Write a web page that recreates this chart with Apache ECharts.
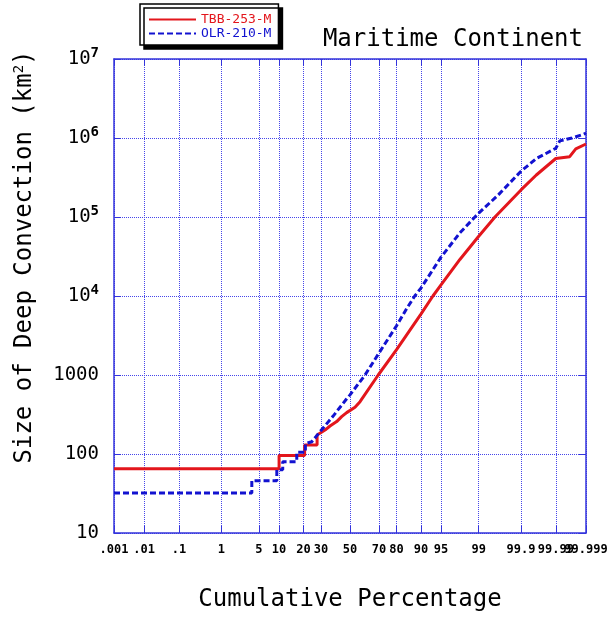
<!DOCTYPE html>
<html>
<head>
<meta charset="utf-8">
<script src="https://cdn.jsdelivr.net/npm/echarts@6/dist/echarts.min.js"></script>
<style>
  html, body { margin: 0; padding: 0; background: #fff; }
  #chart { width: 614px; height: 618px; }
</style>
</head>
<body>
<div id="chart"></div>
<script>
// Cumulative percentage ticks on the probability axis and their labels
const tickPercents = [0.001, 0.01, 0.1, 1, 5, 10, 20, 30, 50, 70, 80, 90, 95, 99, 99.9, 99.99, 99.999];
const tickLabels = ['.001', '.01', '.1', '1', '5', '10', '20', '30', '50', '70', '80', '90', '95', '99', '99.9', '99.99', '99.999'];

// TBB-253-M: [cumulative percentage, size in km^2]
const tbbPercent = [0.001, 10, 10, 20.6, 20.6, 27.6, 27.6, 32.6, 35.9, 40.5, 44, 47.6, 53.6, 57.2, 69.5, 80, 90, 93.3, 95, 97.65, 99, 99.56, 99.9, 99.962, 99.99, 99.9964, 99.99775, 99.999];
const tbbSize = [65, 65, 96, 96, 130, 130, 174, 201, 226, 257, 297, 334, 391, 460, 1000, 2100, 5900, 10000, 13800, 29000, 57000, 100000, 220000, 340000, 550000, 580000, 730000, 840000];

// OLR-210-M: [cumulative percentage, size in km^2]
const olrPercent = [0.001, 3.8, 3.8, 9.3, 9.3, 11.2, 11.2, 16.8, 16.8, 21, 21, 24.5, 30, 37.9, 47.6, 50, 60.7, 70, 80, 84.7, 87.9, 90, 95, 97.65, 98.8, 99, 99.63, 99.9, 99.962, 99.99, 99.9925, 99.997, 99.9988, 99.999];
const olrSize = [32, 32, 46, 46, 63, 63, 80, 80, 105, 105, 135, 143, 198, 300, 500, 560, 1000, 1900, 4200, 6900, 10000, 12600, 31000, 63000, 100000, 112000, 190000, 380000, 550000, 740000, 920000, 1000000, 1120000, 1150000];

// Inverse of the standard normal CDF (Acklam's rational approximation)
function probit(p) {
  const a = [-3.969683028665376e+01, 2.209460984245205e+02, -2.759285104469687e+02, 1.383577518672690e+02, -3.066479806614716e+01, 2.506628277459239e+00];
  const b = [-5.447609879822406e+01, 1.615858368580409e+02, -1.556989798598866e+02, 6.680131188771972e+01, -1.328068155288572e+01];
  const c = [-7.784894002430293e-03, -3.223964580411365e-01, -2.400758277161838e+00, -2.549732539343734e+00, 4.374664141464968e+00, 2.938163982698783e+00];
  const d = [7.784695709041462e-03, 3.224671290700398e-01, 2.445134137142996e+00, 3.754408661907416e+00];
  const pLow = 0.02425, pHigh = 1 - pLow;
  let q, r;
  if (p < pLow) {
    q = Math.sqrt(-2 * Math.log(p));
    return (((((c[0]*q+c[1])*q+c[2])*q+c[3])*q+c[4])*q+c[5]) / ((((d[0]*q+d[1])*q+d[2])*q+d[3])*q+1);
  }
  if (p <= pHigh) {
    q = p - 0.5; r = q * q;
    return (((((a[0]*r+a[1])*r+a[2])*r+a[3])*r+a[4])*r+a[5])*q / (((((b[0]*r+b[1])*r+b[2])*r+b[3])*r+b[4])*r+1);
  }
  q = Math.sqrt(-2 * Math.log(1 - p));
  return -(((((c[0]*q+c[1])*q+c[2])*q+c[3])*q+c[4])*q+c[5]) / ((((d[0]*q+d[1])*q+d[2])*q+d[3])*q+1);
}

const toZ = pct => probit(pct / 100);
const tickZ = tickPercents.map(toZ);
const zMin = tickZ[0];
const zMax = tickZ[tickZ.length - 1];

function pairs(pcts, sizes) {
  return pcts.map((p, i) => [toZ(p), sizes[i]]);
}

const MONO = "'DejaVu Sans Mono', 'Liberation Mono', monospace";
const FRAME = '#3434dc';
const GRID = '#4646ea';
const RED = '#e3161c';
const BLUE = '#1212d0';

function xLabel(v) {
  for (let i = 0; i < tickZ.length; i++) {
    if (Math.abs(tickZ[i] - v) < 1e-6) return tickLabels[i];
  }
  return '';
}

function yLabel(v) {
  const e = Math.round(Math.log10(v));
  if (e >= 4) return '10{sup|' + e + '}';
  return String(Math.round(v));
}

const frameLine = { show: true, onZero: false, lineStyle: { color: FRAME, width: 1.5 } };
const xLabelStyle = {
  formatter: xLabel,
  showMinLabel: true,
  showMaxLabel: true,
  margin: 11,
  fontFamily: MONO,
  fontSize: 12,
  fontWeight: 'bold',
  color: '#000'
};

const chart = echarts.init(document.getElementById('chart'), null, { renderer: 'canvas' });

chart.setOption({
  backgroundColor: '#fff',
  animation: false,
  title: {
    text: 'Maritime Continent',
    right: 31,
    top: 28,
    padding: 0,
    textStyle: { fontFamily: MONO, fontSize: 24, fontWeight: 'normal', color: '#000' }
  },
  legend: {
    left: 140,
    top: 4,
    orient: 'vertical',
    itemWidth: 47,
    itemHeight: 10,
    itemGap: 1,
    padding: [9, 7, 5, 8],
    backgroundColor: '#fff',
    borderColor: '#000',
    borderWidth: 1.5,
    borderRadius: 0,
    shadowColor: '#000',
    shadowBlur: 0,
    shadowOffsetX: 4,
    shadowOffsetY: 4,
    itemStyle: { opacity: 0 },
    textStyle: { fontFamily: MONO, fontSize: 13 },
    data: [
      { name: 'TBB-253-M', textStyle: { color: RED } },
      { name: 'OLR-210-M', textStyle: { color: BLUE } }
    ]
  },
  grid: { left: 114, right: 28, top: 59, bottom: 85 },
  xAxis: [
    {
      type: 'value',
      position: 'bottom',
      min: zMin,
      max: zMax,
      name: 'Cumulative Percentage',
      nameLocation: 'middle',
      nameGap: 55,
      nameTextStyle: { fontFamily: MONO, fontSize: 24, color: '#000' },
      axisLine: frameLine,
      axisTick: { show: true, inside: true, length: 7, customValues: tickZ, lineStyle: { color: FRAME, width: 1 } },
      // every label except the last one, which sits on its own axis below so both crowded labels stay drawn
      axisLabel: Object.assign({ customValues: tickZ.slice(0, -1) }, xLabelStyle),
      splitLine: { show: true, lineStyle: { color: GRID, width: 1, type: [1, 1] } }
    },
    {
      type: 'value',
      position: 'top',
      min: zMin,
      max: zMax,
      axisLine: frameLine,
      axisTick: { show: true, inside: true, length: 7, customValues: tickZ, lineStyle: { color: FRAME, width: 1 } },
      axisLabel: { show: false },
      splitLine: { show: false }
    },
    {
      type: 'value',
      position: 'bottom',
      offset: 0,
      min: zMin,
      max: zMax,
      axisLine: { show: false, onZero: false },
      axisTick: { show: false },
      axisLabel: Object.assign({ customValues: [zMax] }, xLabelStyle),
      splitLine: { show: false }
    }
  ],
  yAxis: [
    {
      type: 'log',
      logBase: 10,
      min: 10,
      max: 1e7,
      splitNumber: 6,
      position: 'left',
      axisLine: frameLine,
      axisTick: { show: true, inside: true, length: 7, lineStyle: { color: FRAME, width: 1 } },
      minorTick: { show: false },
      axisLabel: {
        formatter: yLabel,
        margin: 15,
        fontFamily: MONO,
        fontSize: 19,
        color: '#000',
        rich: {
          sup: { fontFamily: MONO, fontSize: 14, fontWeight: 'bold', color: '#000', padding: [0, 0, 11, 0] }
        }
      },
      splitLine: { show: true, lineStyle: { color: GRID, width: 1, type: [1, 1] } }
    },
    {
      type: 'log',
      logBase: 10,
      min: 10,
      max: 1e7,
      splitNumber: 6,
      position: 'right',
      axisLine: frameLine,
      axisTick: { show: true, inside: true, length: 7, lineStyle: { color: FRAME, width: 1 } },
      axisLabel: { show: false },
      splitLine: { show: false }
    }
  ],
  graphic: [
    {
      type: 'text',
      x: 25,
      y: 257,
      rotation: Math.PI / 2,
      style: {
        text: 'Size of Deep Convection (km{s|2})',
        fontFamily: MONO,
        fontSize: 24,
        fill: '#000',
        align: 'center',
        verticalAlign: 'middle',
        rich: {
          s: { fontFamily: MONO, fontSize: 14, fill: '#000', padding: [0, 0, 12, 0] }
        }
      }
    }
  ],
  series: [
    {
      name: 'TBB-253-M',
      type: 'line',
      xAxisIndex: 0,
      yAxisIndex: 0,
      data: pairs(tbbPercent, tbbSize),
      showSymbol: false,
      symbol: 'none',
      clip: true,
      lineStyle: { color: RED, width: 3 },
      itemStyle: { color: RED },
      z: 3
    },
    {
      name: 'OLR-210-M',
      type: 'line',
      xAxisIndex: 0,
      yAxisIndex: 0,
      data: pairs(olrPercent, olrSize),
      showSymbol: false,
      symbol: 'none',
      clip: true,
      lineStyle: { color: BLUE, width: 3, type: [6, 3] },
      itemStyle: { color: BLUE },
      z: 4
    }
  ]
});
</script>
</body>
</html>
